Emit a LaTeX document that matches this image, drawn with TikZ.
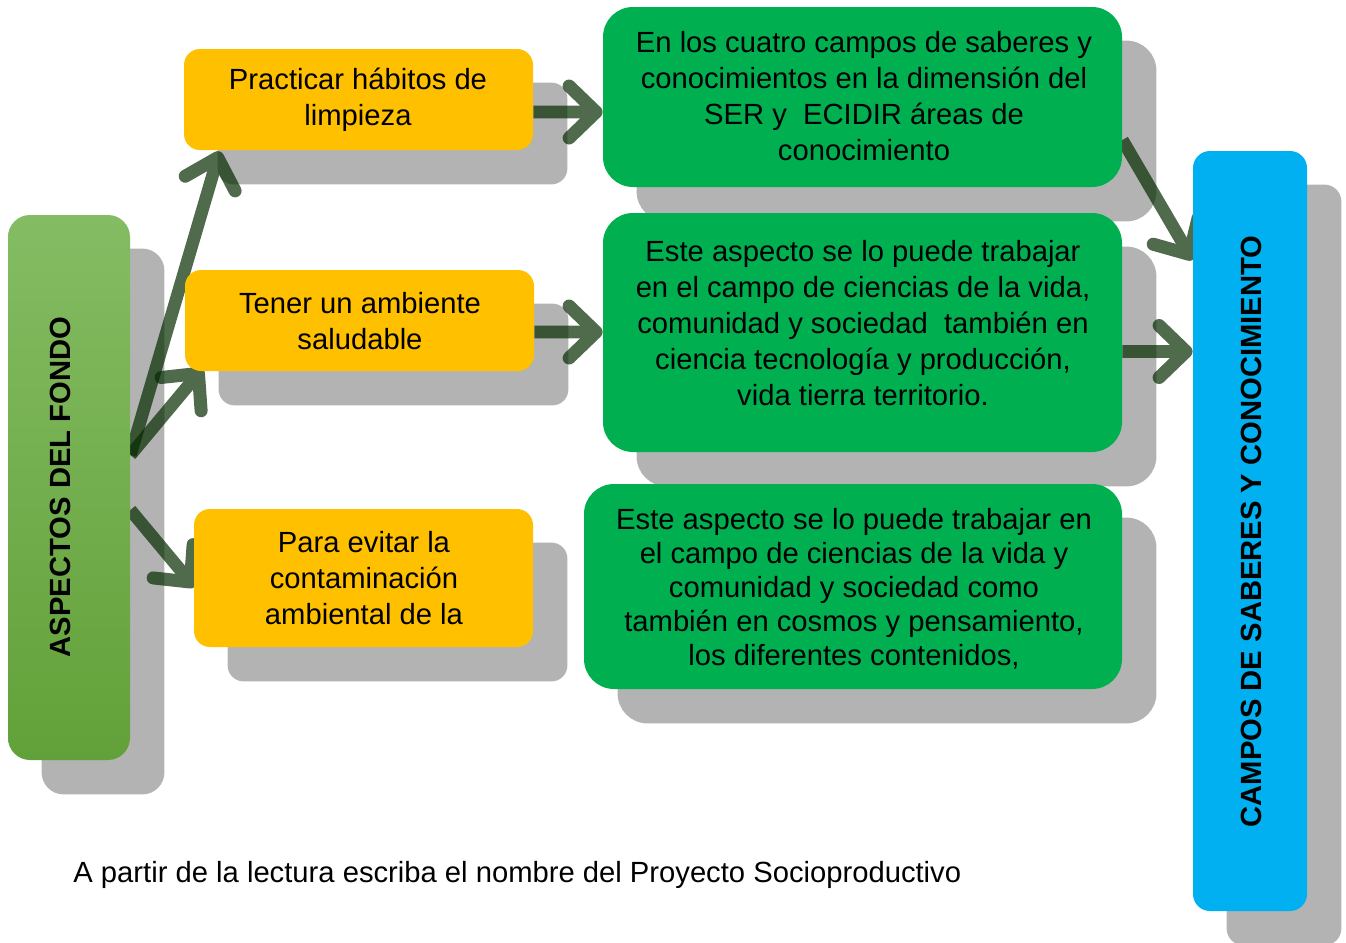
\documentclass[tikz,border=0pt]{standalone}
\usepackage{fontspec}
\setmainfont{Liberation Sans}
\usetikzlibrary{arrows.meta,calc}
\definecolor{yel}{HTML}{FFC000}
\definecolor{grn}{HTML}{00B050}
\definecolor{blu}{HTML}{00B0F0}
\definecolor{shadowgray}{HTML}{B3B3B3}
\definecolor{lgtop}{HTML}{84BC63}
\definecolor{lgbot}{HTML}{62A139}
\definecolor{arrowc}{RGB}{4,44,0}
\pgfdeclarelayer{shadowl}
\pgfdeclarelayer{arrowl}
\pgfsetlayers{shadowl,arrowl,main}
\begin{document}
\begin{tikzpicture}[x=0.5pt,y=-0.5pt,
  box/.style={rectangle, inner sep=0pt, draw=none},
  ybox/.style={box, fill=yel, rounded corners=8pt},
  gbox/.style={box, fill=grn, rounded corners=15pt},
  txt/.style={align=center, inner sep=0pt, font=\fontsize{14.6pt}{18pt}\selectfont},
  vtxt/.style={inner sep=0pt, rotate=90, font=\fontsize{14.6pt}{18pt}\selectfont\bfseries},
  arrgroup/.style={transparency group, opacity=0.7},
  arr/.style={line width=6.3pt, draw=arrowc,
    -{Straight Barb[length=13.5pt,width=26pt,line width=6.5pt,round]}}
]
\useasboundingbox (0,0) rectangle (1346,943);

% boxes
\node[box, rounded corners=11pt, top color=lgtop, bottom color=lgbot,
      minimum width=61pt, minimum height=272.5pt] (L) at (69,487.5) {};
\node[ybox, minimum width=174.5pt, minimum height=50.5pt] (Y1) at (358.5,99.5) {};
\node[ybox, minimum width=174.5pt, minimum height=50.5pt] (Y2) at (359.5,320.5) {};
\node[ybox, minimum width=169.5pt, minimum height=69pt] (Y3) at (363.5,578) {};
\node[gbox, minimum width=259.5pt, minimum height=90pt] (G1) at (862.5,97) {};
\node[gbox, minimum width=259.5pt, minimum height=119.5pt] (G2) at (862.5,332.5) {};
\node[gbox, minimum width=269pt, minimum height=102.5pt] (G3) at (853,586.5) {};
\node[box, fill=blu, rounded corners=8.5pt, minimum width=57pt, minimum height=380pt] (B) at (1250,531) {};

% shadows
\begin{pgfonlayer}{shadowl}
\foreach \n/\r in {L/11pt,Y1/8pt,Y2/8pt,Y3/8pt,G1/15pt,G2/15pt,G3/15pt,B/8.5pt}
  \fill[shadowgray, rounded corners=\r] ($(\n.south west)+(34,34)$) rectangle ($(\n.north east)+(34,34)$);
\end{pgfonlayer}

% texts
\node[vtxt] (Lt) at (60,487) {ASPECTOS DEL FONDO};
\node[vtxt] (Bt) at (1251,531.5) {CAMPOS DE SABERES Y CONOCIMIENTO};
\node[txt] (Y1t) at (358,100) {Practicar hábitos de\\limpieza};
\node[txt] (Y2t) at (360,321) {Tener un ambiente\\saludable};
\node[txt] (Y3t) at (364,578) {Para evitar la\\contaminación\\ambiental de la};
\node[txt] (G1t) at (864,96) {En los cuatro campos de saberes y\\conocimientos en la dimensión del\\SER y\ \ ECIDIR áreas de\\conocimiento};
\node[txt] (G2t) at (863,323) {Este aspecto se lo puede trabajar\\en el campo de ciencias de la vida,\\comunidad y sociedad\ \ también en\\ciencia tecnología y producción,\\vida tierra territorio.};
\node[txt, font=\fontsize{14.6pt}{17pt}\selectfont] (G3t) at (854,589) {Este aspecto se lo puede trabajar en\\el campo de ciencias de la vida y\\comunidad y sociedad como\\también en cosmos y pensamiento,\\los diferentes contenidos,};
\node[txt, anchor=base west] (bottom) at (73,882) {A partir de la lectura escriba el nombre del Proyecto Socioproductivo};

% arrows
\coordinate (a4) at ($(Y1.east)+(0,12.5)$);
\coordinate (a5) at ($(Y2.east)+(0,11.5)$);
\coordinate (a7) at ($(G2.east)+(0,19)$);
\begin{pgfonlayer}{arrowl}
\begin{scope}[arrgroup]\draw[arr] ($(L.east)+(0,-32.5)$) -- ($(Y1.south west)+(36,1)$);\end{scope}
\begin{scope}[arrgroup]\draw[arr] ($(L.east)+(0,-32.5)$) -- ($(Y2.south west)+(18,-3)$);\end{scope}
\begin{scope}[arrgroup]\draw[arr] ($(L.east)+(0,22.5)$) -- ($(Y3.west)+(1,9)$);\end{scope}
\begin{scope}[arrgroup]\draw[arr] (a4) -- (a4 -| G1.west);\end{scope}
\begin{scope}[arrgroup]\draw[arr] (a5) -- (a5 -| G2.west);\end{scope}
\begin{scope}[arrgroup]\draw[arr] ($(G1.east)+(0,43)$) -- ($(B.west)+(0,-271)$);\end{scope}
\begin{scope}[arrgroup]\draw[arr] (a7) -- (a7 -| B.west);\end{scope}
\end{pgfonlayer}
\end{tikzpicture}
\end{document}
